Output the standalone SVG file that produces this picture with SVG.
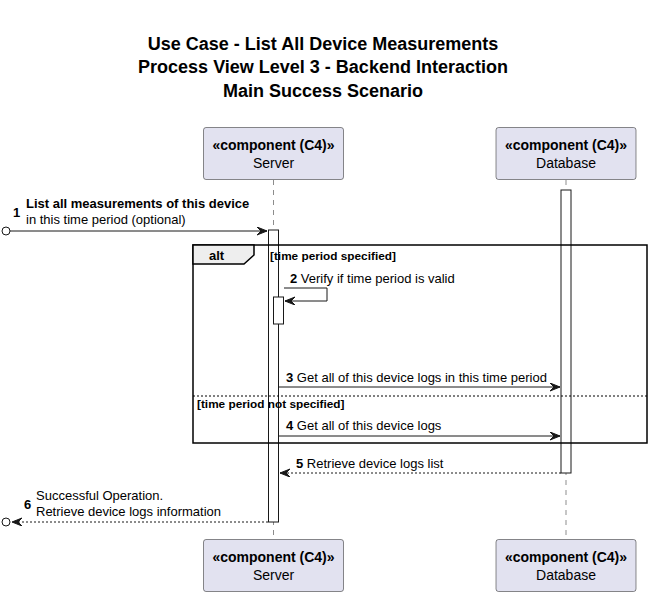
<svg xmlns="http://www.w3.org/2000/svg" width="652" height="595" viewBox="0 0 652 595">
<style>
text{font-family:"Liberation Sans",Arial,sans-serif;fill:#000}
.title{font-size:18px;font-weight:bold;text-anchor:middle}
.st{font-size:14px;font-weight:bold;text-anchor:middle}
.pn{font-size:14px;text-anchor:middle}
.msg{font-size:13px}
.b{font-weight:bold}
.guard{font-size:11.8px;font-weight:bold}
.box{fill:#E2E2F0;stroke:#181818;stroke-width:0.5}
.life{stroke:#181818;stroke-width:0.5;stroke-dasharray:5,5;fill:none}
.act{fill:#FFFFFF;stroke:#181818;stroke-width:1}
.line{stroke:#181818;stroke-width:1;fill:none}
.dash{stroke-dasharray:2,2}
</style>
<defs>
<marker id="ah" markerUnits="userSpaceOnUse" markerWidth="12" markerHeight="10" refX="10" refY="4" orient="auto">
<path d="M0,0 L10,4 L0,8 L4,4 Z" fill="#181818" stroke="#181818" stroke-width="1"/>
</marker>
</defs>
<g id="title">
<text class="title" x="323" y="50">Use Case - List All Device Measurements</text>
<text class="title" x="323" y="73">Process View Level 3 - Backend Interaction</text>
<text class="title" x="323" y="97">Main Success Scenario</text>
</g>
<g id="lifelines">
<line class="life" x1="273.5" y1="180" x2="273.5" y2="539"/>
<line class="life" x1="566" y1="180" x2="566" y2="539"/>
</g>
<g id="server">
<rect class="box" x="203.5" y="127.5" width="140" height="52" rx="2.5"/>
<text class="st" x="273.5" y="150">«component (C4)»</text>
<text class="pn" x="273.5" y="168">Server</text>
</g>
<g id="database">
<rect class="box" x="496" y="127.5" width="140" height="52" rx="2.5"/>
<text class="st" x="566" y="150">«component (C4)»</text>
<text class="pn" x="566" y="168">Database</text>
</g>
<g id="server-bottom">
<rect class="box" x="203.5" y="539.5" width="140" height="52" rx="2.5"/>
<text class="st" x="273.5" y="562">«component (C4)»</text>
<text class="pn" x="273.5" y="580">Server</text>
</g>
<g id="database-bottom">
<rect class="box" x="496" y="539.5" width="140" height="52" rx="2.5"/>
<text class="st" x="566" y="562">«component (C4)»</text>
<text class="pn" x="566" y="580">Database</text>
</g>
<g id="activations">
<rect class="act" x="561" y="190" width="10" height="283"/>
<rect class="act" x="268.5" y="230" width="10" height="292"/>
<rect class="act" x="273.5" y="297" width="10" height="27"/>
</g>
<g id="alt">
<rect x="193" y="245" width="454" height="198" fill="none" stroke="#000" stroke-width="1.5"/>
<path d="M193,245 L254,245 L254,255 L244,264 L193,264 Z" fill="#EEEEEE" stroke="#000" stroke-width="1.5"/>
<text class="msg b" x="209" y="260">alt</text>
<text class="guard" x="270" y="260">[time period specified]</text>
<line x1="193" y1="396" x2="647" y2="396" stroke="#000" stroke-width="1" stroke-dasharray="2,2"/>
<text class="guard" x="197" y="408">[time period not specified]</text>
</g>
<g id="connectors">
<circle cx="6" cy="231" r="4" fill="#FFFFFF" stroke="#181818" stroke-width="1"/>
<line class="line" x1="10" y1="231" x2="267" y2="231" marker-end="url(#ah)"/>
<polyline class="line" points="284,288 327,288 327,301 285,301" marker-end="url(#ah)"/>
<line class="line" x1="279" y1="387" x2="560" y2="387" marker-end="url(#ah)"/>
<line class="line" x1="279" y1="436" x2="560" y2="436" marker-end="url(#ah)"/>
<line class="line dash" x1="561" y1="473" x2="280" y2="473" marker-end="url(#ah)"/>
<line class="line dash" x1="268" y1="522" x2="12" y2="522" marker-end="url(#ah)"/>
<circle cx="6" cy="522" r="4" fill="#FFFFFF" stroke="#181818" stroke-width="1"/>
</g>
<g id="labels">
<text class="msg b" x="13" y="217">1</text>
<text class="msg b" x="26" y="208">List all measurements of this device</text>
<text class="msg" x="26" y="224">in this time period (optional)</text>
<text class="msg" x="290" y="283"><tspan class="b">2</tspan> Verify if time period is valid</text>
<text class="msg" x="286" y="382"><tspan class="b">3</tspan> Get all of this device logs in this time period</text>
<text class="msg" x="286" y="430"><tspan class="b">4</tspan> Get all of this device logs</text>
<text class="msg" x="296" y="468"><tspan class="b">5</tspan> Retrieve device logs list</text>
<text class="msg b" x="24" y="509">6</text>
<text class="msg" x="36" y="500">Successful Operation.</text>
<text class="msg" x="36" y="516">Retrieve device logs information</text>
</g>
</svg>
